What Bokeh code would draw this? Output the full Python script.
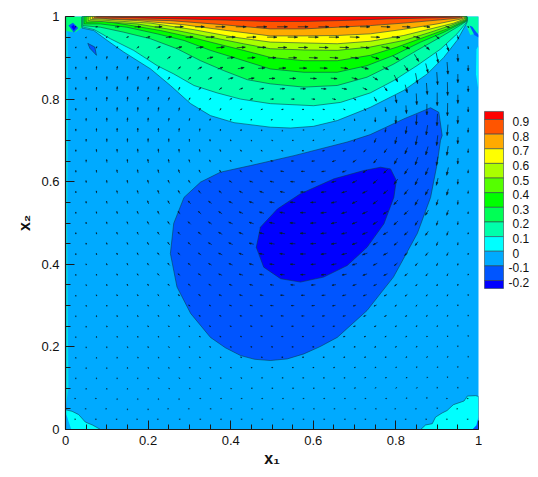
from bokeh.plotting import figure
from bokeh.layouts import row
from bokeh.embed import file_html
from bokeh.resources import INLINE
from bokeh.models import FixedTicker
import math

# ---------- data ----------
level_labels = ["0.9", "0.8", "0.7", "0.6", "0.5", "0.4", "0.3", "0.2", "0.1", "0", "-0.1", "-0.2"]
level_values = [0.9, 0.8, 0.7, 0.6, 0.5, 0.4, 0.3, 0.2, 0.1, 0.0, -0.1, -0.2]
band_colors = ["#FF0000", "#FF5500", "#FFAA00", "#FFFF00", "#AAFF00", "#55FF00", "#00FF00",
               "#00FF55", "#00FFAA", "#00FFFF", "#00AAFF", "#0055FF", "#0000FF"]

c00 = [(.04,.972),(.0686,.966),(.101,.942),(.141,.914),(.206,.873),(.254,.833),(.303,.789),(.351,.760),(.408,.743),(.496,.732),(.545,.730),(.600,.734),(.658,.748),(.738,.780),(.819,.821),(.876,.861),(.916,.901),(.948,.942),(.972,.985)]
c01 = [(.04,.975),(.07,.968),(.109,.946),(.165,.918),(.222,.881),(.262,.861),(.311,.833),(.367,.815),(.424,.800),(.496,.789),(.601,.784),(.666,.792),(.738,.815),(.795,.845),(.851,.881),(.908,.921),(.948,.958),(.972,.987)]
c02 = [(.042,.978),(.085,.974),(.141,.962),(.206,.946),(.270,.922),(.327,.893),(.383,.869),(.440,.847),(.496,.837),(.577,.829),(.658,.833),(.730,.853),(.795,.885),(.851,.918),(.908,.950),(.948,.974),(.972,.989)]
c03 = [(.045,.982),(.085,.982),(.149,.974),(.222,.958),(.287,.942),(.351,.918),(.416,.898),(.496,.873),(.577,.865),(.658,.865),(.730,.881),(.795,.906),(.860,.938),(.916,.962),(.956,.982),(.972,.99)]
c04 = [(.05,.986),(.095,.988),(.149,.980),(.230,.966),(.303,.950),(.367,.934),(.431,.918),(.496,.901),(.577,.893),(.658,.893),(.738,.906),(.803,.926),(.869,.950),(.924,.970),(.970,.991)]
c05 = [(.055,.99),(.174,.982),(.270,.966),(.351,.950),(.431,.934),(.496,.922),(.577,.919),(.658,.918),(.738,.926),(.819,.942),(.884,.962),(.932,.978),(.968,.992)]
c06 = [(.06,.993),(.206,.984),(.311,.968),(.408,.950),(.496,.938),(.577,.936),(.658,.934),(.738,.940),(.819,.954),(.892,.972),(.940,.984),(.966,.994)]
c07 = [(.065,.995),(.174,.990),(.287,.980),(.391,.966),(.496,.953),(.577,.953),(.658,.954),(.738,.958),(.819,.969),(.900,.982),(.963,.995)]
c08 = [(.07,.997),(.115,.994),(.254,.990),(.383,.980),(.496,.970),(.577,.970),(.658,.974),(.738,.978),(.819,.984),(.908,.992),(.96,.997)]
c09 = [(.075,.999),(.206,.996),(.367,.992),(.496,.988),(.577,.988),(.658,.990),(.779,.994),(.900,.997),(.955,.999)]
top_contours = [c00, c01, c02, c03, c04, c05, c06, c07, c08, c09]
top_colors = ["#00FFFF", "#00FFAA", "#00FF55", "#00FF00", "#55FF00", "#AAFF00", "#FFFF00", "#FFAA00", "#FF5500", "#FF0000"]

cm1 = [(.912,.712),(.908,.700),(.900,.644),(.884,.562),(.852,.475),(.794,.369),(.730,.288),(.658,.223),(.617,.201),(.577,.183),(.537,.171),(.496,.167),(.458,.170),(.424,.179),(.387,.198),(.351,.223),(.303,.281),(.270,.345),(.254,.426),(.262,.499),(.287,.562),(.327,.599),(.375,.623),(.448,.639),(.553,.663),(.682,.696),(.738,.714),(.819,.752),(.884,.779),(.904,.768)]
cm2 = [(.787,.631),(.801,.603),(.795,.562),(.771,.498),(.730,.441),(.682,.397),(.625,.369),(.569,.357),(.521,.365),(.480,.393),(.462,.441),(.472,.490),(.513,.534),(.569,.571),(.650,.607),(.722,.627),(.763,.635)]

cyan_bl = [(0,0),(0,.048),(.016,.044),(.032,.036),(.048,.018),(.065,.011),(.085,0)]
cyan_br = [(1,0),(.860,0),(.872,.011),(.888,.014),(.896,.030),(.912,.040),(.924,.046),(.939,.060),(.965,.069),(.973,.081),(.993,.082),(1,.08)]
cyan_left = [(0,.05),(0,.97),(.005,.96),(.006,.8),(.004,.5),(.007,.1)]
cyan_right = [(1,.82),(1,.93),(.995,.92),(.994,.86)]
blue_bl = [(0,0),(0,.04),(.004,.03),(.014,0)]
blue_br = [(1,0),(.985,0),(.995,.01),(1,.03)]
sliver = [(.054,.935),(.071,.926),(.075,.906),(.059,.923)]
corner_tl = [(0,1),(.075,1),(.05,.98),(.024,.962),(0,.965)]
corner_tr = [(1,1),(.955,1),(.97,.98),(.98,.955),(1,.96)]
blob_tl = [(.007,.978),(.018,.985),(.031,.972),(.02,.961)]
core_tl = [(.014,.975),(.019,.98),(.025,.972),(.02,.967)]
blob_tr = [(.978,.978),(.985,.975),(1,.955),(1,.949),(.99,.955)]

arrow_x = [.025,.075,.125,.175,.225,.275,.325,.375,.425,.475,.525,.575,.625,.675,.725,.775,.825,.875,.925,.975]
arrow_y = [.975,.925,.875,.825,.775,.725,.675,.625,.575,.525,.475,.425,.375,.325,.275,.225,.175,.125,.075,.025]
u_rows = [
[3,8,15,22,26,30,32,34,36,36,36,36,36,35,34,32,28,22,14,4],
[1,2,4,8,14,20,25,28,30,30,31,32,32,32,30,28,24,18,8,1],
[0,1,2,3,6,10,14,18,22,24,25,26,26,25,24,20,14,8,3,0],
[0,1,1,2,3,5,7,9,12,15,17,18,18,17,15,11,7,3,1,0],
[0,0,1,1,2,3,4,4,5,6,7,7,7,6,5,3,2,0,-1,0],
[0,0,0,0,0,1,1,1,1,0,0,-1,-1,-1,-2,-3,-4,-5,-3,-1],
[0,-1,-1,-1,-1,-1,-2,-3,-4,-5,-6,-7,-8,-9,-9,-9,-9,-8,-5,-1],
[0,-1,-2,-2,-3,-4,-5,-6,-8,-10,-12,-13,-14,-14,-14,-13,-12,-10,-6,-1],
[0,-1,-2,-3,-4,-6,-8,-10,-12,-14,-16,-17,-18,-18,-17,-15,-13,-11,-6,-1],
[0,-1,-2,-4,-5,-7,-10,-12,-14,-16,-18,-19,-20,-19,-18,-16,-14,-11,-6,-1],
[0,-1,-3,-4,-6,-8,-11,-13,-15,-17,-19,-20,-20,-19,-18,-16,-13,-10,-5,-1],
[0,-1,-3,-4,-6,-8,-10,-13,-15,-17,-18,-19,-19,-18,-17,-15,-12,-9,-5,-1],
[0,-1,-2,-4,-6,-8,-10,-12,-14,-15,-16,-17,-17,-16,-15,-13,-10,-7,-4,-1],
[0,-1,-2,-3,-5,-7,-8,-10,-11,-12,-13,-13,-13,-13,-12,-10,-8,-5,-3,0],
[0,0,-1,-2,-3,-5,-6,-7,-8,-9,-10,-10,-10,-10,-9,-8,-6,-4,-2,0],
[0,0,-1,-1,-2,-3,-4,-5,-6,-7,-7,-7,-7,-7,-6,-5,-4,-3,-1,0],
[0,0,0,-1,-1,-2,-3,-3,-4,-4,-5,-5,-5,-5,-4,-4,-3,-2,-1,0],
[0,0,0,0,-1,-1,-1,-2,-2,-2,-3,-3,-3,-3,-2,-2,-2,-1,0,0],
[0,0,0,0,0,0,-1,-1,-1,-1,-1,-1,-1,-1,-1,-1,-1,0,0,0],
[0,0,0,0,0,-1,-1,-1,-1,-1,-1,-1,-1,-1,-1,-1,0,0,0,0],
]
v_rows = [
[0,1,1,1,1,1,1,0,0,0,0,0,0,0,0,-1,-1,-2,-5,-6],
[5,6,6,6,6,5,4,3,2,1,0,0,-1,-1,-3,-5,-9,-16,-24,-10],
[9,12,13,12,11,9,8,6,4,2,1,0,-1,-3,-6,-11,-20,-32,-42,-20],
[9,12,15,15,14,11,9,7,5,3,1,0,-1,-3,-7,-15,-28,-40,-46,-20],
[8,11,14,15,14,12,9,7,5,3,1,0,-1,-3,-8,-16,-28,-38,-44,-18],
[8,11,13,14,13,12,10,7,5,3,1,0,-1,-3,-8,-15,-26,-34,-38,-16],
[7,10,12,13,13,12,10,8,6,4,2,0,-2,-4,-8,-14,-22,-29,-32,-14],
[7,9,11,12,12,12,10,8,6,4,2,0,-2,-5,-8,-13,-19,-25,-27,-12],
[6,8,10,11,12,11,10,8,6,5,3,0,-2,-5,-8,-12,-17,-21,-22,-10],
[5,7,9,10,11,10,9,8,6,5,3,0,-2,-5,-8,-11,-14,-18,-18,-8],
[5,6,8,9,9,9,8,7,6,4,3,0,-2,-4,-7,-9,-12,-14,-14,-6],
[4,5,7,8,8,8,7,6,5,3,2,0,-2,-4,-6,-8,-10,-11,-11,-5],
[3,4,6,6,7,6,6,5,4,3,1,0,-2,-3,-5,-6,-8,-9,-8,-4],
[2,4,5,5,5,5,5,4,3,2,1,0,-1,-3,-4,-5,-6,-6,-6,-3],
[2,3,4,4,4,4,3,3,2,1,1,0,-1,-2,-3,-4,-4,-4,-4,-2],
[1,2,3,3,3,3,2,2,2,1,0,0,-1,-1,-2,-3,-3,-3,-3,-1],
[1,1,2,2,2,2,2,1,1,1,0,0,0,-1,-1,-2,-2,-2,-2,-1],
[1,1,1,1,1,1,1,1,1,0,0,0,0,0,-1,-1,-1,-1,-1,0],
[0,0,1,1,1,1,0,0,0,0,0,0,0,0,0,0,-1,-1,0,0],
[0,0,0,0,0,0,0,0,0,0,0,0,0,0,0,0,0,0,0,0],
]
arrow_x2 = [.05,.10,.15,.20,.25,.30,.35,.40,.45,.50,.55,.60,.65,.70,.75,.80,.85,.90,.95]
arrow_y2 = [.95,.90,.85,.80,.75,.70,.65,.60,.55,.50,.45,.40,.35,.30,.25,.20,.15,.10,.05]
u2_rows = [
[1,4,8,14,20,26,30,32,33,34,34,35,35,33,31,28,22,14,5],
[0,2,3,6,11,16,21,25,27,28,29,30,29,28,26,22,15,7,1],
[0,1,2,4,7,10,14,17,20,21,22,22,22,20,17,12,7,3,0],
[0,1,1,2,4,5,6,8,10,11,12,12,12,10,8,5,2,0,0],
[0,0,1,1,2,2,2,3,3,3,3,3,2,1,0,-1,-2,-2,-1],
[0,0,0,0,0,0,-1,-1,-2,-3,-4,-4,-5,-5,-6,-6,-6,-4,-1],
[0,-1,-1,-2,-2,-3,-4,-5,-7,-9,-10,-11,-12,-12,-11,-11,-9,-5,-1],
[-1,-1,-2,-3,-5,-6,-8,-10,-12,-14,-15,-16,-16,-16,-15,-13,-10,-6,-1],
[-1,-2,-3,-4,-6,-9,-11,-13,-15,-17,-18,-19,-19,-18,-16,-14,-11,-6,-1],
[-1,-2,-3,-5,-7,-9,-12,-14,-16,-18,-19,-20,-20,-18,-16,-14,-10,-5,-1],
[-1,-2,-3,-5,-7,-9,-12,-14,-16,-18,-19,-19,-19,-18,-16,-13,-9,-5,-1],
[-1,-2,-3,-5,-7,-9,-11,-13,-15,-16,-17,-17,-17,-16,-14,-11,-8,-4,-1],
[-1,-1,-3,-4,-6,-8,-9,-11,-12,-13,-14,-15,-14,-13,-11,-9,-6,-3,-1],
[-1,-1,-2,-3,-5,-6,-7,-9,-10,-11,-11,-11,-11,-10,-9,-7,-5,-3,0],
[0,-1,-1,-2,-3,-4,-5,-6,-7,-8,-8,-8,-8,-8,-7,-5,-3,-2,0],
[0,0,-1,-1,-2,-3,-4,-4,-5,-5,-6,-6,-6,-5,-5,-4,-2,-1,0],
[0,0,0,-1,-1,-2,-2,-3,-3,-3,-4,-4,-4,-3,-3,-2,-1,-1,0],
[0,0,0,0,-1,-1,-1,-1,-2,-2,-2,-2,-2,-2,-1,-1,-1,0,0],
[0,0,0,0,0,0,-1,-1,-1,-1,-1,-1,-1,-1,-1,0,0,0,0],
]
v2_rows = [
[2,3,3,3,3,2,2,1,1,0,0,0,0,-1,-1,-3,-6,-12,-14],
[9,10,10,9,8,7,5,3,2,1,0,-1,-2,-4,-8,-14,-25,-34,-26],
[11,14,14,12,10,9,7,5,3,1,0,-1,-2,-5,-11,-24,-36,-44,-30],
[11,14,15,14,11,9,7,5,3,1,0,-1,-3,-7,-15,-28,-39,-45,-30],
[10,13,14,13,11,9,7,5,3,1,0,-1,-3,-8,-16,-27,-36,-41,-27],
[9,12,13,13,12,10,7,5,3,1,0,-1,-3,-8,-15,-24,-32,-35,-24],
[9,11,12,13,12,10,8,6,4,2,0,-1,-4,-8,-14,-21,-27,-30,-21],
[8,10,11,12,11,10,8,6,4,3,1,-1,-4,-8,-13,-18,-23,-25,-18],
[7,9,10,11,11,10,8,6,5,3,1,-1,-4,-8,-12,-16,-20,-20,-15],
[6,8,9,10,10,9,8,6,5,3,1,-1,-4,-7,-10,-13,-16,-16,-12],
[5,7,8,9,9,8,7,6,4,3,1,-1,-3,-6,-9,-11,-13,-13,-10],
[4,6,7,7,8,7,6,5,4,2,1,-1,-3,-5,-7,-9,-10,-10,-7],
[3,5,6,6,6,6,5,4,3,2,1,-1,-2,-4,-5,-7,-7,-7,-5],
[3,4,4,5,5,4,4,3,2,1,0,-1,-2,-3,-4,-5,-5,-5,-3],
[2,3,3,4,3,3,3,2,2,1,0,-1,-1,-2,-3,-4,-4,-3,-2],
[1,2,2,3,2,2,2,2,1,1,0,0,-1,-1,-2,-3,-3,-2,-1],
[1,1,2,2,2,1,1,1,1,0,0,0,-1,-1,-1,-2,-2,-1,-1],
[1,1,1,1,1,1,1,1,0,0,0,0,0,-1,-1,-1,-1,-1,-1],
[0,0,1,1,0,0,0,0,0,0,0,0,0,0,0,0,0,-1,0],
]
tick_values = [0, .2, .4, .6, .8, 1]
tick_labels = ["0", "0.2", "0.4", "0.6", "0.8", "1"]
# -------------------------------------------------

FONT = "Liberation Sans"
LINE = "#0b3a4a"

p = figure(width=482, height=469, x_range=(0, 1), y_range=(0, 1), output_backend="svg",
           toolbar_location=None, min_border_left=65, min_border_right=4, min_border_top=16, min_border_bottom=40)
p.grid.visible = False
p.outline_line_color = None
p.background_fill_color = "#00AAFF"
p.border_fill_color = "white"


def poly(pts, color, line=True):
    p.patch([a for a, b in pts], [b for a, b in pts], fill_color=color,
            line_color=LINE if line else None, line_width=0.7, line_alpha=0.8)


poly(corner_tl, "#00FF77", False)
poly(corner_tr, "#00FFAA", False)
for pts, col in zip(top_contours, top_colors):
    poly(pts + [(pts[-1][0], 1), (pts[0][0], 1)], col)
for pts in (cyan_bl, cyan_br):
    poly(pts, "#00FFFF")
poly(cyan_left, "#00E0E8", False)
poly(cyan_right, "#00FFFF", False)
poly(blue_bl, "#00AAFF", False)
poly(blue_br, "#0055FF", False)
poly(sliver, "#0055FF")
poly(blob_tl, "#0055FF", False)
poly(core_tl, "#0000FF", False)
poly(blob_tr, "#0055FF", False)
poly(cm1, "#0055FF")
poly(cm2, "#0000FF")

SCALE = 0.07 / 100
x0, y0, x1, y1, hx, hy = [], [], [], [], [], []


def add_arrows(xs, ys, us, vs):
    for j, yy in enumerate(ys):
        for i, xx in enumerate(xs):
            dx, dy = us[j][i] * SCALE, vs[j][i] * SCALE
            L = math.hypot(dx, dy)
            if L == 0:
                dx, L = 0.0006, 0.0006
            ux, uy = dx / L, dy / L
            tipx, tipy = xx + dx / 2, yy + dy / 2
            x0.append(xx - dx / 2); y0.append(yy - dy / 2); x1.append(tipx); y1.append(tipy)
            h = max(min(L * 0.45, 0.0075), 0.003)
            w = h * 0.38
            bx, by = tipx - ux * h, tipy - uy * h
            hx.append([tipx, bx - uy * w, bx + uy * w])
            hy.append([tipy, by + ux * w, by - ux * w])


add_arrows(arrow_x, arrow_y, u_rows, v_rows)
add_arrows(arrow_x2, arrow_y2, u2_rows, v2_rows)
p.segment(x0, y0, x1, y1, line_color="#06202c", line_width=0.7)
p.patches(hx, hy, fill_color="#06202c", line_color="#06202c", line_width=0.3)

for ax in (p.xaxis[0], p.yaxis[0]):
    ax.ticker = FixedTicker(ticks=tick_values, minor_ticks=[i * .05 for i in range(21)])
    ax.major_label_overrides = {v: s for v, s in zip(tick_values, tick_labels)}
    ax.major_tick_in = 9
    ax.major_tick_out = 0
    ax.minor_tick_in = 5
    ax.minor_tick_out = 0
    ax.major_tick_line_color = "#1a1a1a"
    ax.minor_tick_line_color = "#1a1a1a"
    ax.axis_line_color = "#1a1a1a"
    ax.axis_line_width = 1.2
    ax.major_label_text_font = FONT
    ax.major_label_text_font_size = "13px"
    ax.major_label_text_color = "#111111"
    ax.axis_label_text_font = FONT
    ax.axis_label_text_font_size = "16px"
    ax.axis_label_text_font_style = "bold"
    ax.axis_label_text_color = "#111111"
p.xaxis[0].axis_label = "x\u2081"
p.yaxis[0].axis_label = "x\u2082"
p.xaxis[0].major_label_standoff = 6
p.yaxis[0].major_label_standoff = 6
p.xaxis[0].axis_label_standoff = 2
p.yaxis[0].axis_label_standoff = 5

# colour key
q = figure(width=50, height=469, x_range=(0, 50), y_range=(-1.2178, 1.6036), output_backend="svg",
           toolbar_location=None, min_border_left=0, min_border_right=0, min_border_top=16, min_border_bottom=40)
q.axis.visible = False
q.grid.visible = False
q.outline_line_color = None
edges = [0.955] + level_values + [-0.2546]
q.quad(left=[2] * 13, right=[21] * 13, top=edges[:-1], bottom=edges[1:],
       fill_color=band_colors, line_color="#33474f", line_width=0.6)
xs = [26 if v < 0 else 30 for v in level_values]
q.text(xs, level_values, text=level_labels, text_font={"value": FONT}, text_font_size={"value": "12px"},
       text_baseline="middle", text_align="left", y_offset=2, text_color="#111111")

open("out.html", "w").write(file_html(row(p, q, spacing=0), INLINE))
